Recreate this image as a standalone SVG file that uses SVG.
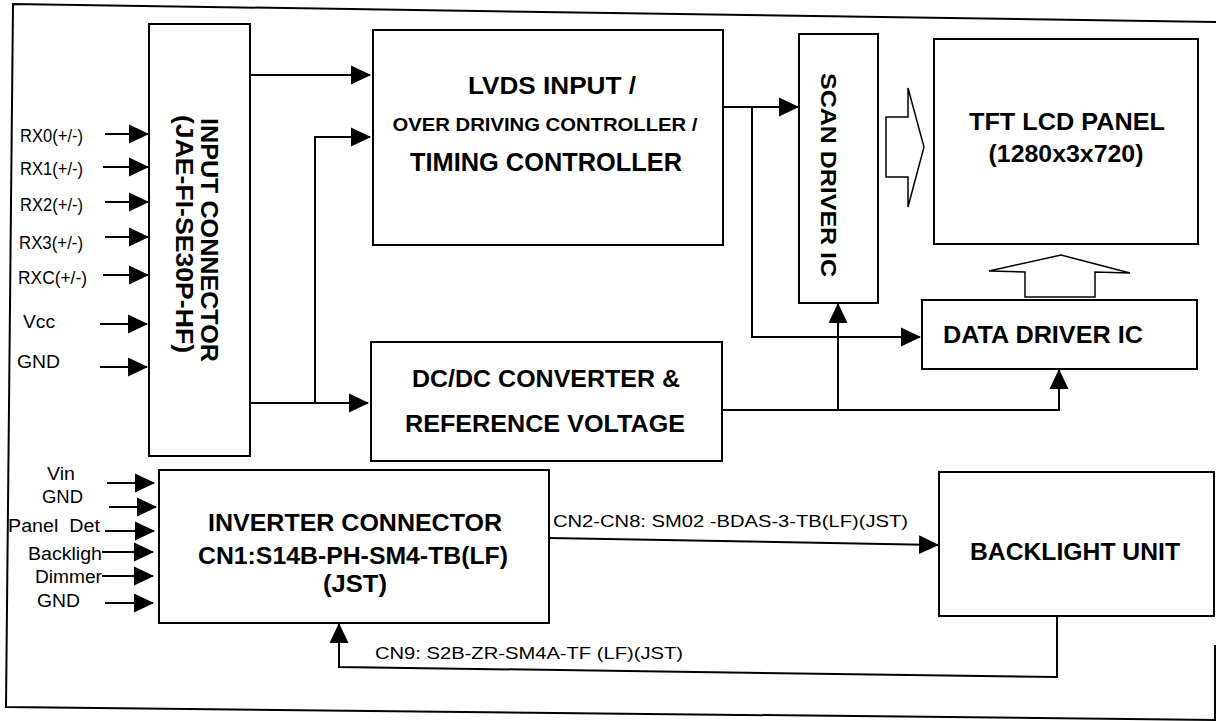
<svg xmlns="http://www.w3.org/2000/svg" width="1216" height="721" viewBox="0 0 1216 721">
<style>
.box{fill:#fff;stroke:#000;stroke-width:2}
.ln{fill:none;stroke:#000;stroke-width:2}
.hol{fill:#fff;stroke:#000;stroke-width:1.5;stroke-linejoin:miter}
.b{font-family:"Liberation Sans",Arial,sans-serif;font-weight:bold;fill:#000}
.r{font-family:"Liberation Sans",Arial,sans-serif;fill:#000}
</style>
<defs>
<marker id="ah" markerUnits="userSpaceOnUse" markerWidth="20" markerHeight="20" refX="19" refY="10" orient="auto" viewBox="0 0 20 20">
<path d="M0,0.5 L20,10 L0,19.5 z" fill="#000"/>
</marker>
</defs>
<rect width="1216" height="721" fill="#fff"/>
<path class="ln" d="M1216,22 L13,4 L6,707 L1216,720 M1215,645 L1215,721"/>

<g id="connectors">
<path class="ln" d="M105,134 H148" marker-end="url(#ah)"/>
<path class="ln" d="M103,167 H148" marker-end="url(#ah)"/>
<path class="ln" d="M105,202 H148" marker-end="url(#ah)"/>
<path class="ln" d="M105,237 H148" marker-end="url(#ah)"/>
<path class="ln" d="M103,275 H148" marker-end="url(#ah)"/>
<path class="ln" d="M100,324 H147" marker-end="url(#ah)"/>
<path class="ln" d="M100,367 H147" marker-end="url(#ah)"/>
<path class="ln" d="M250,75 H370" marker-end="url(#ah)"/>
<path class="ln" d="M315,403 V137 H370" marker-end="url(#ah)"/>
<path class="ln" d="M249,403 H368" marker-end="url(#ah)"/>
<path class="ln" d="M723,107 H798" marker-end="url(#ah)"/>
<path class="ln" d="M752,107 V337 H920" marker-end="url(#ah)"/>
<path class="ln" d="M722,410 H1059 V370" marker-end="url(#ah)"/>
<path class="ln" d="M838,410 V304" marker-end="url(#ah)"/>
<path class="ln" d="M107,483 H154" marker-end="url(#ah)"/>
<path class="ln" d="M109,507 H156" marker-end="url(#ah)"/>
<path class="ln" d="M105,531 H154" marker-end="url(#ah)"/>
<path class="ln" d="M102,552 H153" marker-end="url(#ah)"/>
<path class="ln" d="M102,576 H153" marker-end="url(#ah)"/>
<path class="ln" d="M105,603 H153" marker-end="url(#ah)"/>
<path class="ln" d="M549,538 L938,545" marker-end="url(#ah)"/>
<path class="ln" d="M1057,616 V677 L339,667 V624" marker-end="url(#ah)"/>
<polygon class="hol" points="886,117 908,117 908,88 924,147 908,207 908,177 886,177"/>
<polygon class="hol" points="1025,297 1025,272 989,271 1061,255 1130,273 1095,272 1095,297"/>
<text class="r" x="553" y="527" font-size="16.5" textLength="355" lengthAdjust="spacingAndGlyphs">CN2-CN8: SM02 -BDAS-3-TB(LF)(JST)</text>
<text class="r" x="375" y="659" font-size="16.5" textLength="308" lengthAdjust="spacingAndGlyphs">CN9: S2B-ZR-SM4A-TF (LF)(JST)</text>
</g>

<g id="inputs">
<text class="r" x="20" y="142" font-size="17.5" textLength="63" lengthAdjust="spacingAndGlyphs">RX0(+/-)</text>
<text class="r" x="20" y="175" font-size="17.5" textLength="63" lengthAdjust="spacingAndGlyphs">RX1(+/-)</text>
<text class="r" x="20" y="211" font-size="17.5" textLength="63" lengthAdjust="spacingAndGlyphs">RX2(+/-)</text>
<text class="r" x="19" y="249" font-size="17.5" textLength="64" lengthAdjust="spacingAndGlyphs">RX3(+/-)</text>
<text class="r" x="18" y="284" font-size="17.5" textLength="69" lengthAdjust="spacingAndGlyphs">RXC(+/-)</text>
<text class="r" x="23" y="328" font-size="17.5" textLength="32" lengthAdjust="spacingAndGlyphs">Vcc</text>
<text class="r" x="17" y="368" font-size="17.5" textLength="43" lengthAdjust="spacingAndGlyphs">GND</text>
<text class="r" x="47" y="480" font-size="17.5" textLength="28" lengthAdjust="spacingAndGlyphs">Vin</text>
<text class="r" x="42" y="503" font-size="17.5" textLength="41" lengthAdjust="spacingAndGlyphs">GND</text>
<text class="r" x="8" y="532" font-size="17.5" textLength="92" lengthAdjust="spacingAndGlyphs" xml:space="preserve">Panel  Det</text>
<text class="r" x="28" y="560" font-size="17.5" textLength="74" lengthAdjust="spacingAndGlyphs">Backligh</text>
<text class="r" x="35" y="583" font-size="17.5" textLength="67" lengthAdjust="spacingAndGlyphs">Dimmer</text>
<text class="r" x="37" y="607" font-size="17.5" textLength="43" lengthAdjust="spacingAndGlyphs">GND</text>
</g>

<g id="input-connector">
<rect class="box" x="149" y="24" width="101" height="432"/>
<text class="b" transform="translate(201,240) rotate(90)" text-anchor="middle" font-size="24" textLength="244" lengthAdjust="spacingAndGlyphs">INPUT CONNECTOR</text>
<text class="b" transform="translate(176,234) rotate(90)" text-anchor="middle" font-size="24" textLength="238" lengthAdjust="spacingAndGlyphs">(JAE-FI-SE30P-HF)</text>
</g>

<g id="lvds">
<rect class="box" x="373" y="30" width="350" height="215"/>
<text class="b" x="552" y="94" text-anchor="middle" font-size="23" textLength="168" lengthAdjust="spacingAndGlyphs">LVDS INPUT /</text>
<text class="b" x="545" y="131" text-anchor="middle" font-size="19" textLength="305" lengthAdjust="spacingAndGlyphs">OVER DRIVING CONTROLLER /</text>
<text class="b" x="546" y="171" text-anchor="middle" font-size="25" textLength="272" lengthAdjust="spacingAndGlyphs">TIMING CONTROLLER</text>
</g>

<g id="scan-driver">
<rect class="box" x="799" y="34" width="79" height="269"/>
<text class="b" transform="translate(821,175) rotate(90)" text-anchor="middle" font-size="22" textLength="204" lengthAdjust="spacingAndGlyphs">SCAN DRIVER IC</text>
</g>

<g id="tft-panel">
<rect class="box" x="934" y="39" width="264" height="205"/>
<text class="b" x="1067" y="130" text-anchor="middle" font-size="24" textLength="196" lengthAdjust="spacingAndGlyphs">TFT LCD PANEL</text>
<text class="b" x="1066" y="162" text-anchor="middle" font-size="24" textLength="155" lengthAdjust="spacingAndGlyphs">(1280x3x720)</text>
</g>

<g id="data-driver">
<rect class="box" x="922" y="300" width="275" height="69"/>
<text class="b" x="1043" y="343" text-anchor="middle" font-size="24" textLength="200" lengthAdjust="spacingAndGlyphs">DATA DRIVER IC</text>
</g>

<g id="dcdc">
<rect class="box" x="371" y="342" width="351" height="119"/>
<text class="b" x="546" y="387" text-anchor="middle" font-size="24" textLength="268" lengthAdjust="spacingAndGlyphs">DC/DC CONVERTER &amp;</text>
<text class="b" x="545" y="432" text-anchor="middle" font-size="24" textLength="280" lengthAdjust="spacingAndGlyphs">REFERENCE VOLTAGE</text>
</g>

<g id="inverter">
<rect class="box" x="159" y="470" width="390" height="153"/>
<text class="b" x="355" y="531" text-anchor="middle" font-size="23" textLength="294" lengthAdjust="spacingAndGlyphs">INVERTER CONNECTOR</text>
<text class="b" x="353" y="564" text-anchor="middle" font-size="23" textLength="310" lengthAdjust="spacingAndGlyphs">CN1:S14B-PH-SM4-TB(LF)</text>
<text class="b" x="355" y="592" text-anchor="middle" font-size="23" textLength="64" lengthAdjust="spacingAndGlyphs">(JST)</text>
</g>

<g id="backlight">
<rect class="box" x="939" y="472" width="275" height="144"/>
<text class="b" x="1075" y="560" text-anchor="middle" font-size="23" textLength="210" lengthAdjust="spacingAndGlyphs">BACKLIGHT UNIT</text>
</g>
</svg>
